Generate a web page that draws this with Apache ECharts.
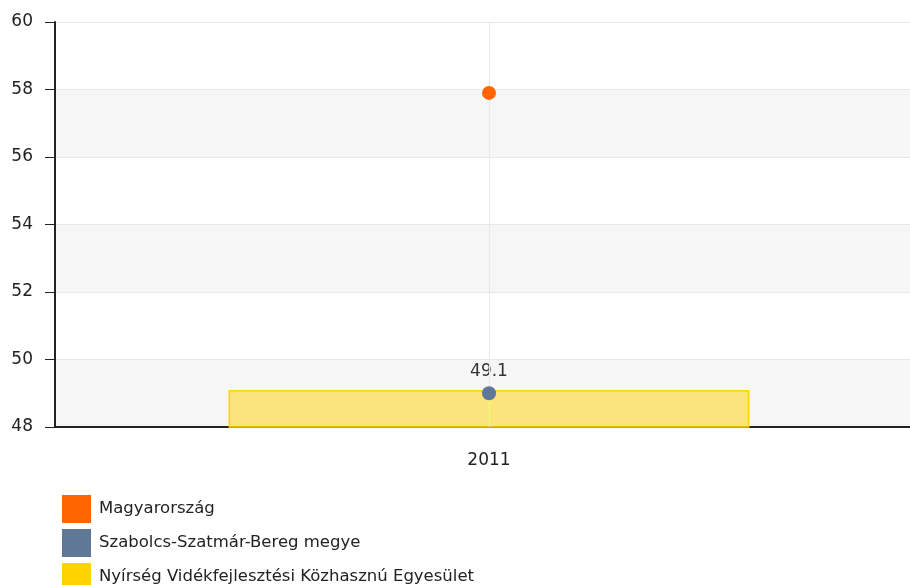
<!DOCTYPE html>
<html>
<head>
<meta charset="utf-8">
<script src="https://cdn.jsdelivr.net/npm/echarts@6/dist/echarts.min.js"></script>
<style>html,body{margin:0;padding:0;background:#fff;}#c{width:910px;height:585px;}</style>
</head>
<body>
<div id="c"></div>
<script>
var categories = ['2011'];
var seriesNames = ['Magyarország', 'Szabolcs-Szatmár-Bereg megye', 'Nyírség Vidékfejlesztési Közhasznú Egyesület'];
var magyarorszag = [57.9];
var szabolcs = [49.0];
var nyirseg = [49.1];
var yTicks = { min: 48, max: 60, interval: 2 };

var chart = echarts.init(document.getElementById('c'));
var font = 'DejaVu Sans, Verdana, sans-serif';
function legendFor(name, color, top) {
  return {
    orient: 'vertical', left: 62, top: top,
    itemWidth: 29, itemHeight: 28, itemGap: 6,
    icon: 'rect', padding: 0,
    textStyle: { fontSize: 16.5, color: '#222', fontFamily: font, padding: [2, 0, 0, 3] },
    data: [{ name: name, itemStyle: { color: color, borderWidth: 0, opacity: 1 } }]
  };
}
chart.setOption({
  animation: false,
  textStyle: { fontFamily: font },
  grid: { left: 55, top: 22, width: 868, height: 405, containLabel: false, outerBoundsMode: 'none' },
  legend: [
    legendFor(seriesNames[0], '#ff6600', 495),
    legendFor(seriesNames[1], '#5f7896', 529),
    legendFor(seriesNames[2], '#ffd200', 563)
  ],
  xAxis: {
    type: 'category', data: categories,
    axisLine: { lineStyle: { color: '#222', width: 2 } },
    axisTick: { alignWithLabel: true, length: 6, lineStyle: { color: '#222' } },
    axisLabel: { fontSize: 17, color: '#222', margin: 25, fontFamily: font },
    splitLine: { show: false }
  },
  yAxis: {
    type: 'value', min: yTicks.min, max: yTicks.max, interval: yTicks.interval,
    axisLine: { show: true, lineStyle: { color: '#222', width: 2 } },
    axisTick: { show: true, length: 10, lineStyle: { color: '#222' } },
    axisLabel: { fontSize: 17, color: '#222', margin: 22, fontFamily: font },
    splitLine: { show: true, lineStyle: { color: '#e8e8e8', width: 1 } },
    splitArea: { show: true, areaStyle: { color: ['#f6f6f6', '#ffffff'] } }
  },
  series: [
    {
      name: seriesNames[0], type: 'scatter', data: magyarorszag, z: 5,
      symbolSize: 14, itemStyle: { color: '#ff6600', opacity: 1 }
    },
    {
      name: seriesNames[1], type: 'scatter', data: szabolcs, z: 5,
      symbolSize: 14, itemStyle: { color: '#5f7896', opacity: 1 }
    },
    {
      name: seriesNames[2], type: 'bar', data: nyirseg, barWidth: '60%', z: 2,
      itemStyle: { color: 'rgba(255,210,0,0.5)', borderColor: '#ffd200', borderWidth: 1.5 },
      label: { show: true, position: 'top', distance: 10, fontSize: 17, color: '#333', fontFamily: font },
      markLine: {
        silent: true, symbol: 'none', label: { show: false },
        lineStyle: { color: '#e8e8e8', type: 'solid', width: 1 },
        data: [{ xAxis: '2011' }]
      }
    }
  ]
});
</script>
</body>
</html>
